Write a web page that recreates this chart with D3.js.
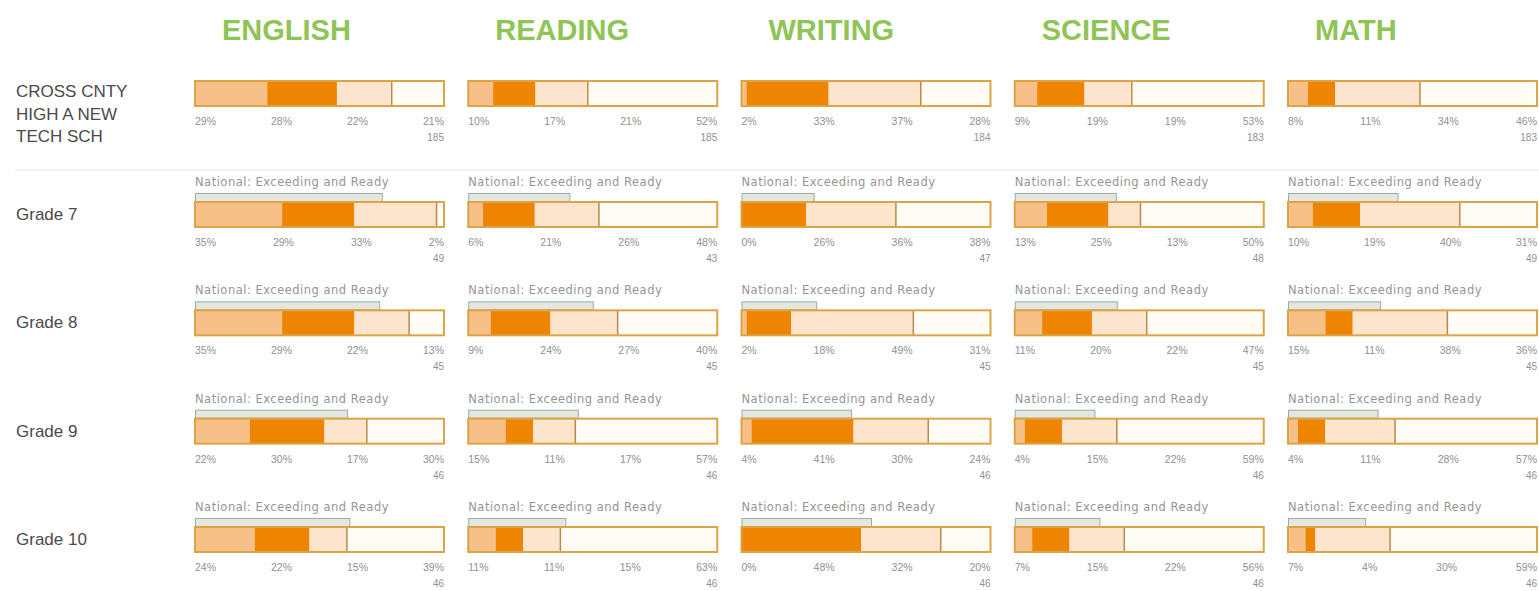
<!DOCTYPE html>
<html>
<head>
<meta charset="utf-8">
<script src="https://cdn.jsdelivr.net/npm/d3@7"></script>
<style>
	body { margin: 0; background: #fff; }
	svg { display: block; }
</style>
</head>
<body>
<svg id="chart"></svg>
<script>
var subjects = ['ENGLISH', 'READING', 'WRITING', 'SCIENCE', 'MATH'];
var schoolLabel = ['CROSS CNTY', 'HIGH A NEW', 'TECH SCH'];
var grades = ['Grade 7', 'Grade 8', 'Grade 9', 'Grade 10'];
var levels = ['Exceeding', 'Ready', 'Close', 'In Need'];

// rows: school, grade 7, 8, 9, 10 -- [exceeding, ready, close, in need]
var english = [[29, 28, 22, 21], [35, 29, 33, 2], [35, 29, 22, 13], [22, 30, 17, 30], [24, 22, 15, 39]];
var reading = [[10, 17, 21, 52], [6, 21, 26, 48], [9, 24, 27, 40], [15, 11, 17, 57], [11, 11, 15, 63]];
var writing = [[2, 33, 37, 28], [0, 26, 36, 38], [2, 18, 49, 31], [4, 41, 30, 24], [0, 48, 32, 20]];
var science = [[9, 19, 19, 53], [13, 25, 13, 50], [11, 20, 22, 47], [4, 15, 22, 59], [7, 15, 22, 56]];
var math = [[8, 11, 34, 46], [10, 19, 40, 31], [15, 11, 38, 36], [4, 11, 28, 57], [7, 4, 30, 59]];

// national exceeding + ready, per grade (school row has none)
var nationalEnglish = [null, 75, 74, 61, 62];
var nationalReading = [null, 41, 50, 44, 39];
var nationalWriting = [null, 29, 30, 44, 52];
var nationalScience = [null, 41, 41, 32, 34];
var nationalMath = [null, 44, 37, 36, 31];

// students tested
var countsEnglish = [185, 49, 45, 46, 46];
var countsReading = [185, 43, 45, 46, 46];
var countsWriting = [184, 47, 45, 46, 46];
var countsScience = [183, 48, 45, 46, 46];
var countsMath = [183, 49, 45, 46, 46];

var values = [english, reading, writing, science, math],
	nationals = [nationalEnglish, nationalReading, nationalWriting, nationalScience, nationalMath],
	counts = [countsEnglish, countsReading, countsWriting, countsScience, countsMath];

var width = 1539,
	height = 591,
	barW = 249,
	barH = 25,
	schoolY = 81,
	i, j;

var colour = d3.scaleOrdinal()
	.domain(levels)
	.range(['#f7c089', '#ef8400', '#fde4cc', '#fffcf6']);

var colX = d3.scalePoint().domain(subjects).range([195, 1288]);
var rowY = d3.scalePoint().domain(grades).range([202, 527]);

var svg = d3.select('#chart')
	.attr('width', width)
	.attr('height', height)
	.style('font-family', '"Liberation Sans", Arial, sans-serif');

// Column headings
svg.append('g')
	.selectAll('text')
	.data(subjects).enter()
	.append('text')
		.attr('x', function (d) {return colX(d) + 27;})
		.attr('y', 40)
		.attr('font-size', 29)
		.attr('font-weight', 'bold')
		.attr('fill', '#8fc457')
		.text(function (d) {return d;});

// Row labels
svg.append('g')
	.selectAll('text')
	.data(schoolLabel).enter()
	.append('text')
		.attr('x', 16)
		.attr('y', function (d, i) {return 97 + i * 22.5;})
		.attr('font-size', 17)
		.attr('fill', '#4a4a4a')
		.text(function (d) {return d;});

svg.append('g')
	.selectAll('text')
	.data(grades).enter()
	.append('text')
		.attr('x', 16)
		.attr('y', function (d) {return rowY(d) + 18;})
		.attr('font-size', 17)
		.attr('fill', '#4a4a4a')
		.text(function (d) {return d;});

svg.append('line')
	.attr('x1', 15).attr('x2', width)
	.attr('y1', 170).attr('y2', 170)
	.attr('stroke', '#e4e4e4');

var drawBar = function (g, vals, national, count) {
	/// One stacked bar with its labels

	var total = d3.sum(vals),
		x = d3.scaleLinear().domain([0, Math.max(100, total)]).range([0, barW]),
		stack = [],
		acc = 0;

	for (var k = 0; k < vals.length; k++) {
		stack.push({level: levels[k], x0: acc, x1: acc + vals[k], v: vals[k]});
		acc += vals[k];
	}

	if (national !== null) {
		g.append('text')
			.attr('x', 0)
			.attr('y', -16)
			.attr('font-family', '"DejaVu Sans", Verdana, sans-serif')
			.attr('font-size', 11.5)
			.attr('letter-spacing', 0.5)
			.attr('fill', '#959595')
			.text('National: Exceeding and Ready');
		g.append('rect')
			.attr('x', 0.5)
			.attr('y', -8.5)
			.attr('width', x(national))
			.attr('height', 8)
			.attr('fill', '#e5e7df')
			.attr('stroke', '#8fb0ad');
	}

	g.selectAll('.seg')
		.data(stack).enter()
		.append('rect')
			.attr('class', 'seg')
			.attr('x', function (d) {return x(d.x0);})
			.attr('y', 0)
			.attr('width', function (d) {return x(d.x1) - x(d.x0);})
			.attr('height', barH)
			.attr('fill', function (d) {return colour(d.level);});

	g.append('line')
		.attr('x1', x(stack[2].x1)).attr('x2', x(stack[2].x1))
		.attr('y1', 0).attr('y2', barH)
		.attr('stroke', '#b88a4c')
		.attr('stroke-width', 1.5);

	g.append('rect')
		.attr('x', 0)
		.attr('y', 0)
		.attr('width', barW)
		.attr('height', barH)
		.attr('fill', 'none')
		.attr('stroke', '#dba445')
		.attr('stroke-width', 2);

	// percentage labels spread like space-between
	var labels = g.selectAll('.pct')
		.data(stack).enter()
		.append('text')
			.attr('class', 'pct')
			.attr('y', barH + 19)
			.attr('font-size', 10.5)
			.attr('fill', '#909090')
			.text(function (d) {return d.v + '%';});

	var widths = [];
	labels.each(function () {widths.push(this.getComputedTextLength());});
	var gap = (barW - d3.sum(widths)) / (widths.length - 1),
		pos = 0;
	labels.attr('x', function (d, n) {
		var p = pos;
		pos += widths[n] + gap;
		return p;
	});

	g.append('text')
		.attr('x', barW)
		.attr('y', barH + 35)
		.attr('text-anchor', 'end')
		.attr('font-size', 10)
		.attr('fill', '#909090')
		.text(count);
};

for (i = 0; i < subjects.length; i++) {
	for (j = 0; j < 5; j++) {
		var y = j === 0 ? schoolY : rowY(grades[j - 1]);
		var g = svg.append('g')
			.attr('transform', 'translate(' + colX(subjects[i]) + ',' + y + ')');
		drawBar(g, values[i][j], nationals[i][j], counts[i][j]);
	}
}
</script>
</body>
</html>
